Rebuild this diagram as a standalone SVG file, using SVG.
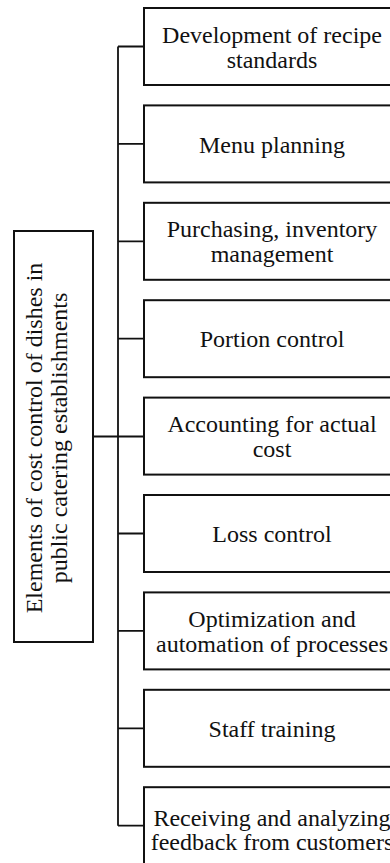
<svg xmlns="http://www.w3.org/2000/svg" width="390" height="863" viewBox="0 0 390 863">
<style>
.box{fill:#fff;stroke:#111;stroke-width:2}
.t{font-size:24px;fill:#111;text-anchor:middle}
.c{fill:none;stroke:#111;stroke-width:1.8}
</style>
<rect width="390" height="863" fill="#fff"/>
<g id="connectors">
<path class="c" d="M118,46.5 V825.7 M118,46.5 H144 M118,143.9 H144 M118,241.3 H144 M118,338.7 H144 M93,436.5 H144 M118,533.5 H144 M118,630.9 H144 M118,728.3 H144 M118,825.7 H144"/>
</g>
<g font-family="Liberation Serif, Tinos, Times New Roman, DejaVu Serif, serif">
<g id="root">
<rect class="box" x="14" y="231" width="79" height="411"/>
<text class="t" transform="translate(53.5,438) rotate(-90)"><tspan x="0" y="-11.5">Elements of cost control of dishes in</tspan><tspan x="0" y="13.5">public catering establishments</tspan></text>
</g>
<g id="n1"><rect class="box" x="144" y="8" width="256" height="77"/><text class="t"><tspan x="272" y="43.3">Development of recipe</tspan><tspan x="272" y="68.3">standards</tspan></text></g>
<g id="n2"><rect class="box" x="144" y="105.4" width="256" height="77"/><text class="t" x="272" y="153">Menu planning</text></g>
<g id="n3"><rect class="box" x="144" y="202.8" width="256" height="77"/><text class="t"><tspan x="272" y="237">Purchasing, inventory</tspan><tspan x="272" y="262">management</tspan></text></g>
<g id="n4"><rect class="box" x="144" y="300.2" width="256" height="77"/><text class="t" x="272" y="346.7">Portion control</text></g>
<g id="n5"><rect class="box" x="144" y="397.6" width="256" height="77"/><text class="t"><tspan x="272" y="432">Accounting for actual</tspan><tspan x="272" y="457">cost</tspan></text></g>
<g id="n6"><rect class="box" x="144" y="495" width="256" height="77"/><text class="t" x="272" y="541.7">Loss control</text></g>
<g id="n7"><rect class="box" x="144" y="592.4" width="256" height="77"/><text class="t"><tspan x="272" y="627">Optimization and</tspan><tspan x="272" y="652">automation of processes</tspan></text></g>
<g id="n8"><rect class="box" x="144" y="689.8" width="256" height="77"/><text class="t" x="272" y="736.5">Staff training</text></g>
<g id="n9"><rect class="box" x="144" y="787.2" width="256" height="77"/><text class="t"><tspan x="272" y="826">Receiving and analyzing</tspan><tspan x="272" y="850">feedback from customers</tspan></text></g>
</g>
</svg>
